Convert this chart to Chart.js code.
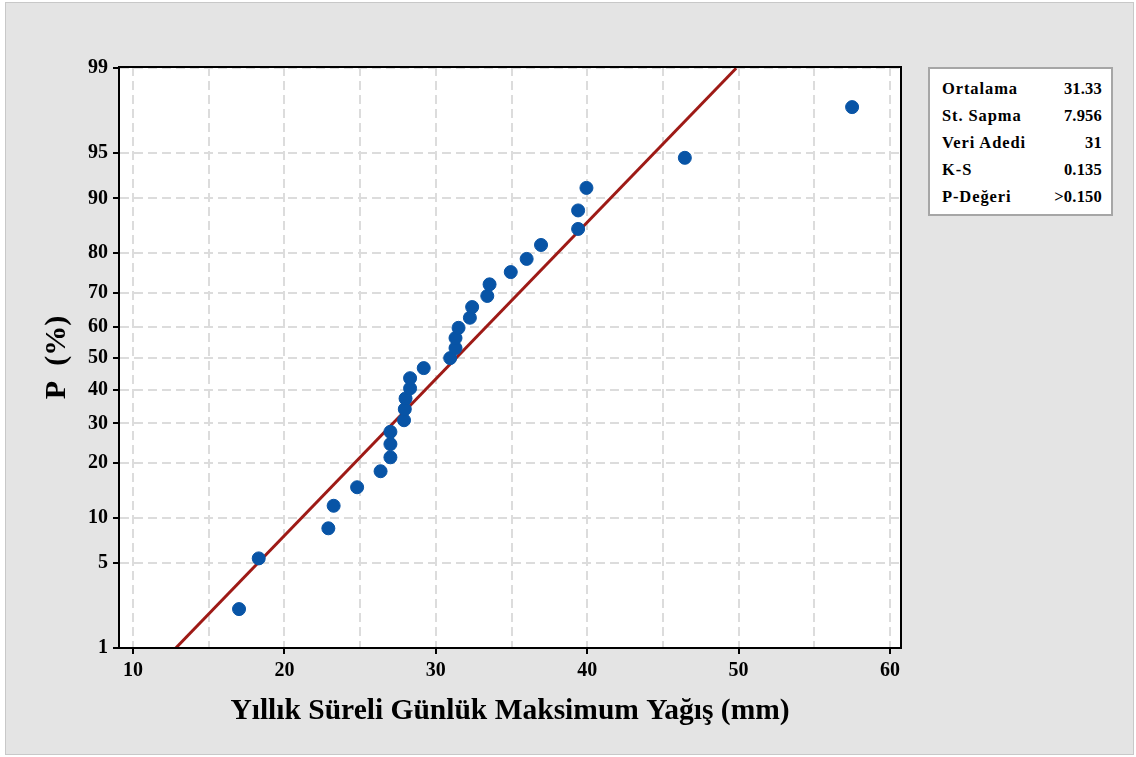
<!DOCTYPE html>
<html>
<head>
<meta charset="utf-8">
<script src="https://cdn.jsdelivr.net/npm/chart.js@4/dist/chart.umd.min.js"></script>
<style>
  html, body { margin: 0; padding: 0; background: #fff; }
  #wrap { position: relative; width: 1136px; height: 757px; }
  #grafico { position: absolute; left: 0; top: 0; }
  #stats {
    position: absolute; left: 928px; top: 67px; width: 181px; height: 145px;
    background: #fff; border: 2px solid #a6a6a6;
    font-family: "Liberation Serif", "Times New Roman", serif; font-weight: bold; font-size: 16.5px;
  }
  #stats table { border-collapse: collapse; margin: 7px 0 0 12px; width: 160px; }
  #stats td { padding: 0; height: 26.8px; line-height: 18px; }
  #stats td.lbl { letter-spacing: 0.9px; }
  #stats td.val { text-align: right; letter-spacing: 0.2px; }
</style>
</head>
<body>
<div id="wrap">
  <canvas id="grafico" width="1136" height="757"></canvas>
  <div id="stats"><table id="statsTable"></table></div>
</div>
<script>
// valores
var precip = [17.0, 18.3, 22.9, 23.25, 24.8, 26.35, 27.0, 27.0, 27.0, 27.9, 27.95, 28.0, 28.3, 28.3, 29.2,
              30.95, 31.3, 31.3, 31.5, 32.25, 32.4, 33.4, 33.55, 34.95, 36.0, 36.95, 39.4, 39.4, 39.95, 46.45, 57.5];
var probPct = [2.2, 5.4, 8.6, 11.8, 15.0, 18.2, 21.3, 24.5, 27.7, 30.9, 34.1, 37.3, 40.4, 43.6, 46.8,
               50.0, 53.2, 56.4, 59.6, 62.7, 65.9, 69.1, 72.3, 75.5, 78.7, 81.8, 85.0, 88.2, 91.4, 94.6, 97.8];
var pTicks = [1, 5, 10, 20, 30, 40, 50, 60, 70, 80, 90, 95, 99];
var xTicks = [10, 15, 20, 25, 30, 35, 40, 45, 50, 55, 60];
var statLabels = ['Ortalama', 'St. Sapma', 'Veri Adedi', 'K-S', 'P-Değeri'];
var statValues = ['31.33', '7.956', '31', '0.135', '>0.150'];
var media = 31.33, desvio = 7.956;
var fitRange = [1, 99];

function normInv(p) {
  var a = [-3.969683028665376e+01, 2.209460984245205e+02, -2.759285104469687e+02, 1.383577518672690e+02, -3.066479806614716e+01, 2.506628277459239e+00];
  var b = [-5.447609879822406e+01, 1.615858368580409e+02, -1.556989798598866e+02, 6.680131188771972e+01, -1.328068155288572e+01];
  var c = [-7.784894002430293e-03, -3.223964580411365e-01, -2.400758277161838e+00, -2.549732539343734e+00, 4.374664141464968e+00, 2.938163982698783e+00];
  var d = [7.784695709041462e-03, 3.224671290700398e-01, 2.445134137142996e+00, 3.754408661907416e+00];
  var pl = 0.02425, q, r;
  if (p < pl) {
    q = Math.sqrt(-2 * Math.log(p));
    return (((((c[0]*q+c[1])*q+c[2])*q+c[3])*q+c[4])*q+c[5]) / ((((d[0]*q+d[1])*q+d[2])*q+d[3])*q+1);
  }
  if (p > 1 - pl) {
    q = Math.sqrt(-2 * Math.log(1 - p));
    return -(((((c[0]*q+c[1])*q+c[2])*q+c[3])*q+c[4])*q+c[5]) / ((((d[0]*q+d[1])*q+d[2])*q+d[3])*q+1);
  }
  q = p - 0.5; r = q * q;
  return (((((a[0]*r+a[1])*r+a[2])*r+a[3])*r+a[4])*r+a[5])*q / (((((b[0]*r+b[1])*r+b[2])*r+b[3])*r+b[4])*r+1);
}

var pontos = precip.map(function (x, i) { return { x: x, y: normInv(probPct[i] / 100) }; });
var reta = fitRange.map(function (p) {
  var z = normInv(p / 100);
  return { x: media + z * desvio, y: z };
});

// tabela de estatisticas
var tb = document.getElementById('statsTable');
statLabels.forEach(function (l, i) {
  var tr = document.createElement('tr');
  tr.innerHTML = '<td class="lbl">' + l + '</td><td class="val">' + statValues[i] + '</td>';
  tb.appendChild(tr);
});

var fundo = {
  id: 'fundo',
  beforeDraw: function (chart) {
    var ctx = chart.ctx, a = chart.chartArea;
    ctx.save();
    ctx.fillStyle = '#ffffff';
    ctx.fillRect(0, 0, chart.width, chart.height);
    ctx.fillStyle = '#e4e4e4';
    ctx.fillRect(5, 2, 1129, 753);
    ctx.strokeStyle = '#c8c8c8';
    ctx.lineWidth = 1;
    ctx.strokeRect(5.5, 2.5, 1128, 752);
    ctx.fillStyle = '#ffffff';
    ctx.fillRect(a.left, a.top, a.right - a.left, a.bottom - a.top);
    ctx.restore();
  },
  afterDraw: function (chart) {
    var ctx = chart.ctx, a = chart.chartArea;
    ctx.save();
    ctx.strokeStyle = '#000';
    ctx.lineWidth = 2;
    ctx.strokeRect(a.left, a.top, a.right - a.left, a.bottom - a.top);
    ctx.restore();
  }
};

var serif = '"Liberation Serif", "Times New Roman", serif';

new Chart(document.getElementById('grafico'), {
  type: 'scatter',
  data: {
    datasets: [
      {
        data: pontos,
        backgroundColor: '#0854a6',
        borderColor: '#0854a6',
        pointRadius: 6.5,
        pointHoverRadius: 6.5,
        order: 0
      },
      {
        data: reta,
        showLine: true,
        borderColor: '#9e1a16',
        borderWidth: 3,
        pointRadius: 0,
        order: 1
      }
    ]
  },
  options: {
    responsive: false,
    animation: false,
    devicePixelRatio: 1,
    layout: { padding: { left: 0, top: 67, right: 235, bottom: 0 } },
    plugins: { legend: { display: false }, tooltip: { enabled: false } },
    scales: {
      x: {
        type: 'linear',
        min: 9.07,
        max: 60.73,
        afterBuildTicks: function (s) { s.ticks = xTicks.map(function (v) { return { value: v }; }); },
        afterFit: function (s) { s.height = 109; },
        grid: {
          color: '#dcdcdc',
          lineWidth: 2,
          tickLength: 6,
          tickWidth: 2,
          tickColor: function (c) { return c.tick && c.tick.value % 10 === 0 ? '#000' : 'rgba(0,0,0,0)'; }
        },
        border: { color: '#000', width: 2, dash: [9, 5] },
        ticks: {
          color: '#000',
          padding: 5,
          font: { family: serif, size: 20, weight: 'bold' },
          callback: function (v) { return v % 10 === 0 ? String(v) : ''; }
        },
        title: {
          display: true,
          text: 'Yıllık Süreli Günlük Maksimum Yağış (mm)',
          color: '#000',
          font: { family: serif, size: 29.5, weight: 'bold' },
          padding: { top: 0, bottom: 28 }
        }
      },
      y: {
        type: 'linear',
        min: normInv(0.01),
        max: 2.336,
        afterBuildTicks: function (s) { s.ticks = pTicks.map(function (p) { return { value: normInv(p / 100) }; }); },
        afterFit: function (s) { s.width = 119; },
        grid: {
          color: '#dcdcdc',
          lineWidth: 2,
          tickLength: 6,
          tickWidth: 2,
          tickColor: '#000'
        },
        border: { color: '#000', width: 2, dash: [9, 5] },
        ticks: {
          color: '#000',
          padding: 5,
          font: { family: serif, size: 20, weight: 'bold' },
          callback: function (v, i) { return String(pTicks[i]); }
        },
        title: {
          display: true,
          text: 'P  (%)',
          color: '#000',
          font: { family: serif, size: 30, weight: 'bold' },
          padding: { top: 39, bottom: 0 }
        }
      }
    }
  },
  plugins: [fundo]
});
</script>
</body>
</html>
